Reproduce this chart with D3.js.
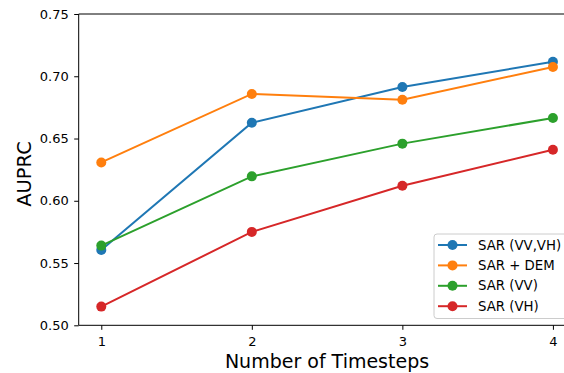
<!DOCTYPE html>
<html>
<head>
<meta charset="utf-8">
<script src="https://cdn.jsdelivr.net/npm/d3@7"></script>
<style>
  body { margin: 0; background: #fff; }
  svg { display: block; font-family: "DejaVu Sans", sans-serif; }
</style>
</head>
<body>
<div id="chart"></div>
<script>
const timesteps = [1, 2, 3, 4];
const seriesNames = ["SAR (VV,VH)", "SAR + DEM", "SAR (VV)", "SAR (VH)"];
const sarVvVh = [0.5605, 0.6627, 0.6914, 0.7117];
const sarDem = [0.6308, 0.6858, 0.6812, 0.7074];
const sarVv = [0.564, 0.6196, 0.6459, 0.6665];
const sarVh = [0.515, 0.575, 0.6121, 0.641];
const yTicks = [0.50, 0.55, 0.60, 0.65, 0.70, 0.75];
const colors = ["#1f77b4", "#ff7f0e", "#2ca02c", "#d62728"];

const series = [sarVvVh, sarDem, sarVv, sarVh].map((vals, i) => ({
    name: seriesNames[i],
    color: colors[i],
    points: vals.map((v, j) => ({ x: timesteps[j], y: v }))
}));

const width = 564;
const height = 373;
const plotLeft = 78.7, plotRight = 575.5, plotTop = 14, plotBottom = 325.3;

const x = d3.scaleLinear().domain([0.85, 4.15]).range([plotLeft, plotRight]);
const y = d3.scaleLinear().domain([0.5, 0.75]).range([plotBottom, plotTop]);

const svg = d3.select("#chart")
    .append("svg")
    .attr("width", width)
    .attr("height", height);

// axes
const xAxis = svg.append("g")
    .attr("transform", `translate(0,${plotBottom})`)
    .call(d3.axisBottom(x).tickValues(timesteps).tickFormat(d3.format("d")).tickSizeOuter(0).tickSize(4.5).tickPadding(6.5));
const yAxis = svg.append("g")
    .attr("transform", `translate(${plotLeft},0)`)
    .call(d3.axisLeft(y).tickValues(yTicks).tickFormat(d3.format(".2f")).tickSizeOuter(0).tickSize(4.5).tickPadding(5.5));

[xAxis, yAxis].forEach(a => {
    a.selectAll("text").style("font-size", "13px").attr("fill", "#000").style("font-family", "DejaVu Sans");
    a.selectAll("line").attr("stroke", "#000").attr("stroke-width", 1);
    a.select(".domain").remove();
});

// spines
svg.append("path")
    .attr("d", `M${plotLeft},${plotTop}V${plotBottom}H${plotRight}M${plotLeft},${plotTop}H${plotRight}`)
    .attr("fill", "none")
    .attr("stroke", "#000")
    .attr("stroke-width", 1);

const line = d3.line().x(d => x(d.x)).y(d => y(d.y));

const g = svg.append("g");
series.forEach(s => {
    g.append("path")
        .datum(s.points)
        .attr("d", line)
        .attr("fill", "none")
        .attr("stroke", s.color)
        .attr("stroke-width", 2);
    g.selectAll(null)
        .data(s.points)
        .enter()
        .append("circle")
        .attr("cx", d => x(d.x))
        .attr("cy", d => y(d.y))
        .attr("r", 5)
        .attr("fill", s.color);
});

// axis labels
svg.append("text")
    .attr("x", 327)
    .attr("y", 368.3)
    .attr("text-anchor", "middle")
    .style("font-size", "19px")
    .text("Number of Timesteps");

svg.append("text")
    .attr("transform", `translate(30.5,174) rotate(-90)`)
    .attr("text-anchor", "middle")
    .style("font-size", "19.5px")
    .text("AUPRC");

// legend
const legend = svg.append("g");
legend.append("rect")
    .attr("x", 434)
    .attr("y", 234)
    .attr("width", 136)
    .attr("height", 84.5)
    .attr("rx", 3)
    .attr("fill", "rgba(255,255,255,0.8)")
    .attr("stroke", "#cccccc")
    .attr("stroke-width", 1);

const rows = legend.selectAll(".row")
    .data(series)
    .enter()
    .append("g")
    .attr("transform", (d, i) => `translate(0,${245 + i * 20.4})`);
rows.append("line")
    .attr("x1", 438).attr("x2", 467)
    .attr("stroke", d => d.color)
    .attr("stroke-width", 2);
rows.append("circle")
    .attr("cx", 452.5)
    .attr("r", 5)
    .attr("fill", d => d.color);
rows.append("text")
    .attr("x", 478)
    .attr("dy", "0.35em")
    .style("font-size", "13.3px")
    .text(d => d.name);
</script>
</body>
</html>
